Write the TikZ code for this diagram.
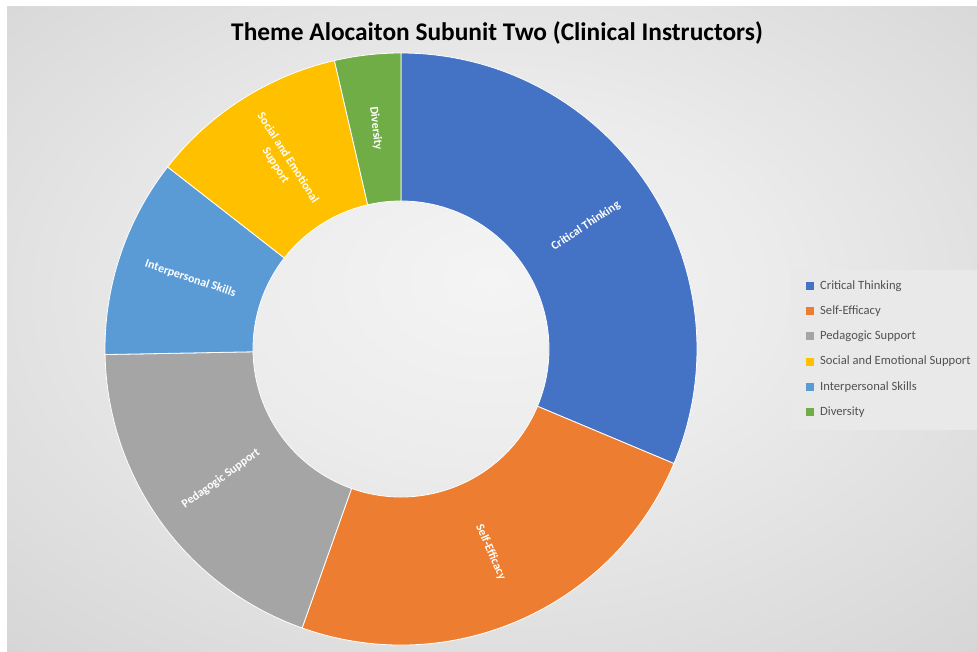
\documentclass[tikz,border=0pt]{standalone}
\usepackage{fontspec}
\setmainfont{Carlito}
\usetikzlibrary{calc}

\definecolor{cCrit}{HTML}{4472C4}
\definecolor{cSelf}{HTML}{ED7D31}
\definecolor{cPed}{HTML}{A5A5A5}
\definecolor{cSoc}{HTML}{FFC000}
\definecolor{cInter}{HTML}{5B9BD5}
\definecolor{cDiv}{HTML}{70AD47}
\definecolor{bgIn}{HTML}{F4F4F4}
\definecolor{bgMid}{HTML}{D3D3D3}
\definecolor{bgOut}{HTML}{B8B8B8}
\definecolor{legendFill}{HTML}{E9E9E9}

% chart-area background: soft radial grey fade
\pgfdeclareradialshading{chartbg}{\pgfpoint{0bp}{4bp}}{%
  color(0bp)=(bgIn); color(14bp)=(bgIn!75!bgMid); color(40bp)=(bgMid); color(75bp)=(bgOut)}

\newcommand{\ring}[3]{% colour, start angle, end angle
  \filldraw[fill=#1, draw=white, line width=0.8pt]
    ([shift={(401pt,302pt)}]#2:296pt) arc[start angle=#2, end angle=#3, radius=296pt]
    -- ([shift={(401pt,302pt)}]#3:148pt) arc[start angle=#3, end angle=#2, radius=148pt]
    -- cycle;}

\tikzset{
  slicelabel/.style={text=white, font=\bfseries\fontsize{12}{14.5}\selectfont, inner sep=0pt, align=center},
  legendkey/.style={fill=#1, minimum size=8pt, inner sep=0pt},
  legendtext/.style={anchor=west, font=\fontsize{12.6}{14}\selectfont, text=black!68, inner sep=0pt}
}

\begin{document}
\begin{tikzpicture}[x=1pt,y=1pt]
\useasboundingbox (0,0) rectangle (977,651);
\fill[white] (0,0) rectangle (977,651);
\shade[shading=chartbg] (7,0) rectangle (977,644);

% donut slices, clockwise from the top
\ring{cCrit}{90}{-22.77}
\ring{cSelf}{-22.77}{-109.52}
\ring{cPed}{-109.52}{-178.92}
\ring{cInter}{-178.92}{-217.96}
\ring{cSoc}{-217.96}{-257.00}
\ring{cDiv}{-257.00}{-270}

% slice labels placed at mid radius, rotated along the radius
\node[slicelabel, rotate=33.6] (lcrit) at ([shift={(401,302)}]33.62:222) {Critical Thinking};
\node[slicelabel, rotate=-66.15] (lself) at ([shift={(401,302)}]-66.15:222) {Self-Efficacy};
\node[slicelabel, rotate=35.78] (lped) at ([shift={(401,302)}]-144.22:222) {Pedagogic Support};
\node[slicelabel, rotate=-18.44] (linter) at ([shift={(401,302)}]-198.44:222) {Interpersonal Skills};
\node[slicelabel, rotate=-57.48] (lsoc) at ([shift={(401,302)}]-237.48:222) {Social and Emotional\\Support};
\node[slicelabel, rotate=-83.5] (ldiv) at ([shift={(401,302)}]-263.5:222) {Diversity};

% title
\node[font=\bfseries\fontsize{25.4}{30}\selectfont, inner sep=0pt] (title) at (497,618)
  {Theme Alocaiton Subunit Two (Clinical Instructors)};

% legend
\fill[legendFill] (791,221) rectangle (977,381);
\foreach \col/\txt [count=\i] in {cCrit/Critical Thinking, cSelf/Self-Efficacy, cPed/Pedagogic Support,
    cSoc/Social and Emotional Support, cInter/Interpersonal Skills, cDiv/Diversity}{
  \pgfmathsetmacro{\yy}{651-286-(\i-1)*25.2}
  \node[legendkey=\col] (key\i) at (810,\yy) {};
  \node[legendtext] (item\i) at (820,\yy) {\txt};
}
\end{tikzpicture}
\end{document}
